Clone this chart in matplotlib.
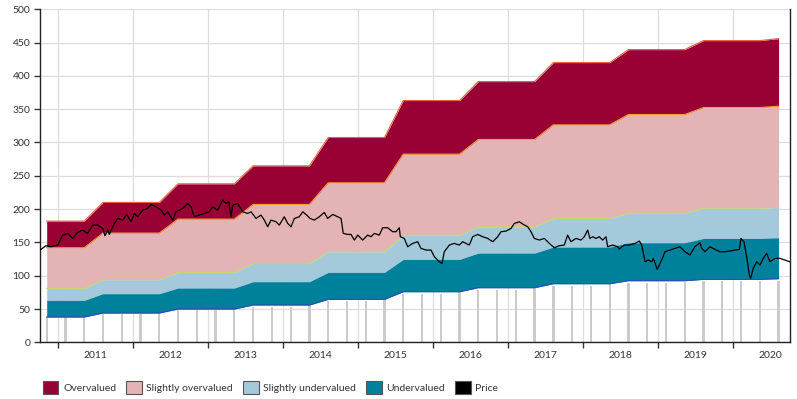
import numpy as np
import matplotlib
matplotlib.use("Agg")
import matplotlib.pyplot as plt
from matplotlib.patches import Patch

plt.rcParams['font.family'] = ['Lato', 'DejaVu Sans']

# quarterly valuation points (decimal years)
quarters = 2010.853 + 0.25 * np.arange(40)
# band levels, one value per yearly step, and how many quarters each step lasts
step_len = [3, 4, 4, 4, 4, 4, 4, 4, 4, 4, 1]
band_bottom = [38, 44, 50, 56, 64.5, 76, 82, 88, 92.5, 94.5, 95.5]
band_under = [63, 73, 81.5, 91, 105, 124.5, 134, 143, 149.5, 156, 157]
band_fair = [81, 94, 105, 118.5, 136, 161, 173.5, 186, 194, 201.5, 202.5]
band_over = [142, 164, 185, 207, 239.5, 282.5, 304.5, 326.5, 342, 352.5, 354.5]
band_top = [182, 210, 238, 265, 307.5, 363, 391.5, 420, 439.5, 453, 456]

# grey quarterly bars
bar_values = [38.5, 38.5, 43, 43, 43, 43, 48.5, 48.5, 48.5, 48.5,
              53.5, 53.5, 53.5, 53.5, 61.5, 61.5, 61.5, 61.5, 72, 72,
              72, 72, 78.5, 78.5, 78.5, 78.5, 84, 84, 84, 84,
              88.5, 88.5, 88.5, 88.5, 90.5, 91.5, 91.5, 91.5, 91.5, 91.5]

# share price
price_t = [2010.764, 2010.844, 2010.911, 2011.000, 2011.066, 2011.133, 2011.200, 2011.266,
           2011.333, 2011.399, 2011.466, 2011.533, 2011.599, 2011.630, 2011.666, 2011.687,
           2011.754, 2011.799, 2011.866, 2011.919, 2011.976, 2012.020, 2012.065, 2012.132,
           2012.198, 2012.243, 2012.309, 2012.376, 2012.420, 2012.465, 2012.532, 2012.576,
           2012.665, 2012.732, 2012.776, 2012.820, 2012.886, 2012.953, 2013.019, 2013.064,
           2013.131, 2013.198, 2013.242, 2013.278, 2013.308, 2013.331, 2013.398, 2013.464,
           2013.531, 2013.575, 2013.642, 2013.708, 2013.752, 2013.797, 2013.841, 2013.908,
           2013.952, 2014.018, 2014.064, 2014.108, 2014.152, 2014.218, 2014.264, 2014.317,
           2014.361, 2014.418, 2014.485, 2014.551, 2014.596, 2014.663, 2014.730, 2014.774,
           2014.804, 2014.863, 2014.907, 2014.951, 2014.996, 2015.063, 2015.129, 2015.173,
           2015.217, 2015.284, 2015.329, 2015.396, 2015.462, 2015.506, 2015.550, 2015.564,
           2015.617, 2015.662, 2015.729, 2015.795, 2015.839, 2015.906, 2015.973, 2016.017,
           2016.062, 2016.083, 2016.119, 2016.150, 2016.217, 2016.283, 2016.350, 2016.395,
           2016.483, 2016.528, 2016.595, 2016.661, 2016.728, 2016.795, 2016.861, 2016.905,
           2016.972, 2017.039, 2017.083, 2017.149, 2017.203, 2017.261, 2017.305, 2017.349,
           2017.416, 2017.482, 2017.549, 2017.615, 2017.682, 2017.748, 2017.793, 2017.837,
           2017.904, 2017.971, 2018.015, 2018.060, 2018.090, 2018.126, 2018.170, 2018.215,
           2018.260, 2018.304, 2018.326, 2018.393, 2018.460, 2018.481, 2018.547, 2018.614,
           2018.690, 2018.748, 2018.780, 2018.824, 2018.867, 2018.913, 2018.934, 2018.987,
           2019.046, 2019.090, 2019.156, 2019.223, 2019.289, 2019.356, 2019.423, 2019.489,
           2019.556, 2019.579, 2019.623, 2019.689, 2019.756, 2019.822, 2019.889, 2019.956,
           2020.023, 2020.080, 2020.102, 2020.142, 2020.178, 2020.213, 2020.231, 2020.266,
           2020.311, 2020.355, 2020.399, 2020.444, 2020.488, 2020.555, 2020.621, 2020.688,
           2020.750]
price = [138.5, 145, 143.5, 146, 161, 163.5, 156, 165,
         168.5, 163.5, 176, 176, 171, 160, 168.5, 162,
         178.5, 186, 183.5, 192, 181, 193.5, 188.5, 198.5,
         201, 207, 203.5, 198.5, 191, 196, 183.5, 196,
         201, 208.5, 203.5, 188.5, 191, 193.5, 196, 203.5,
         198.5, 213.5, 208.5, 211, 188.5, 206, 208.5, 196,
         193.5, 196, 186, 191, 183.5, 173.5, 183.5, 181,
         176, 188.5, 178.5, 173.5, 186, 188.5, 196, 191,
         186, 183.5, 188.5, 195, 186, 192, 188.5, 186,
         163.5, 162, 162, 153.5, 161, 153.5, 161, 158.5,
         163.5, 161, 172, 172, 166, 166, 172, 158.5,
         156, 143.5, 148.5, 151, 141, 138.5, 138.5, 128.5,
         123.5, 121, 118.5, 136, 146, 148.5, 146, 151,
         146, 158.5, 162, 158.5, 156, 151, 158.5, 166,
         167, 171, 178.5, 181, 177, 173.5, 166, 156,
         153.5, 156, 148.5, 142, 145, 146, 161, 151,
         156, 153.5, 158.5, 168.5, 156, 158.5, 156, 158.5,
         153.5, 158.5, 143.5, 146, 143.5, 140, 146, 146,
         148.5, 152, 146, 121, 123.5, 121, 126, 109.5,
         123.5, 136, 138.5, 141, 143.5, 136, 131, 143.5,
         149.5, 141, 136, 143.5, 139.5, 136, 136, 137,
         138.5, 139.5, 156, 151, 128.5, 101, 96, 111,
         121, 116, 126, 133.5, 121, 126, 126, 123.5,
         121]

legend_labels = ['Overvalued', 'Slightly overvalued', 'Slightly undervalued', 'Undervalued', 'Price']
colors = ['#990033', '#e3b3b5', '#a4c9db', '#00819b', '#000000']

# expand the yearly steps to quarters
lv0 = np.repeat(band_bottom, step_len)
lv1 = np.repeat(band_under, step_len)
lv2 = np.repeat(band_fair, step_len)
lv3 = np.repeat(band_over, step_len)
lv4 = np.repeat(band_top, step_len)

fig = plt.figure(figsize=(7.97, 3.99), dpi=100)
ax = fig.add_axes([0.0502, 0.1421, 0.9410, 0.8346])

ax.bar(quarters, bar_values, width=0.03, color='#cbcbcb', lw=0, zorder=1)

ax.fill_between(quarters, lv3, lv4, color=colors[0], lw=0, zorder=2)
ax.fill_between(quarters, lv2, lv3, color=colors[1], lw=0, zorder=2)
ax.fill_between(quarters, lv1, lv2, color=colors[2], lw=0, zorder=2)
ax.fill_between(quarters, lv0, lv1, color=colors[3], lw=0, zorder=2)
ax.plot(quarters, lv4, color='#e8603c', lw=0.8, zorder=3)
ax.plot(quarters, lv3, color='#f0a040', lw=0.8, zorder=3)
ax.plot(quarters, lv2, color='#c8d36a', lw=0.8, zorder=3)
ax.plot(quarters, lv0, color='#3048c0', lw=0.8, zorder=3)

ax.plot(price_t, price, color='black', lw=0.9, zorder=4)

ax.set_xlim(2010.764, 2020.755)
ax.set_ylim(0, 500)
ax.set_yticks(np.arange(0, 501, 50))
ax.set_xticks(np.arange(2011, 2021))
ax.set_xticklabels([])
ax.set_xticks(np.arange(2011, 2021) + 0.5, minor=True)
ax.set_xticklabels([str(y) for y in range(2011, 2021)], minor=True)
ax.tick_params(axis='x', which='minor', length=0, pad=6, labelsize=7.5, colors='#333333')
ax.tick_params(axis='x', which='major', length=4, width=1, color='#333333')
ax.tick_params(axis='y', length=4, width=1, labelsize=7.5, colors='#333333', pad=3)
ax.grid(True, which='major', color='#dddddd', lw=0.9, zorder=0)
ax.set_axisbelow(True)
ax.spines['top'].set_visible(False)
for s in ['left', 'bottom', 'right']:
    ax.spines[s].set_color('#222222')
    ax.spines[s].set_linewidth(1.0)

handles = [Patch(facecolor=c, edgecolor='#555555', lw=0.8) for c in colors]
fig.legend(handles, legend_labels, loc='center left', bbox_to_anchor=(0.042, 0.028),
           ncol=5, frameon=False, fontsize=7.5, handlelength=1.5, handleheight=1.5,
           handletextpad=0.45, columnspacing=0.95, labelcolor='#333333')

fig.savefig('out.png', dpi=100)
